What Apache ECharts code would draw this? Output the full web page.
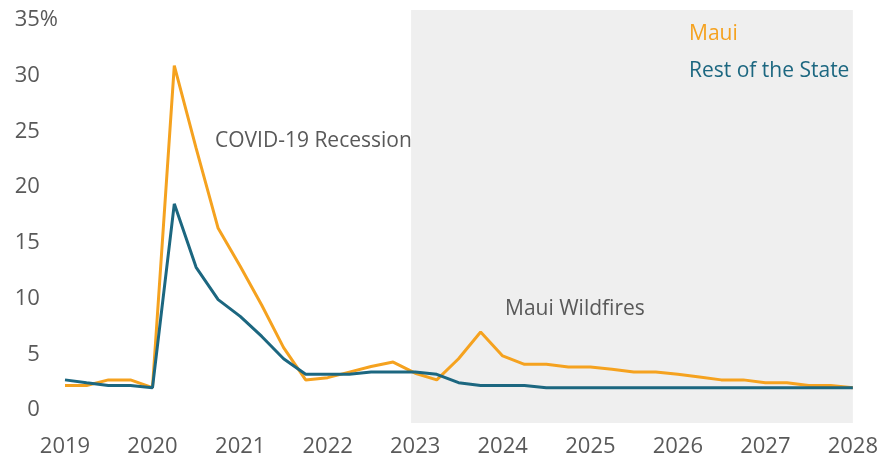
<!DOCTYPE html>
<html>
<head>
<meta charset="utf-8">
<script src="https://cdn.jsdelivr.net/npm/echarts@6/dist/echarts.min.js"></script>
<style>
  html, body { margin: 0; padding: 0; background: #fff; }
  #main { width: 881px; height: 464px; }
</style>
</head>
<body>
<div id="main"></div>
<script>
// quarterly, 2019 Q1 .. 2028 Q1
var quarters = [
  '2019-01-01', '2019-04-01', '2019-07-01', '2019-10-01',
  '2020-01-01', '2020-04-01', '2020-07-01', '2020-10-01',
  '2021-01-01', '2021-04-01', '2021-07-01', '2021-10-01',
  '2022-01-01', '2022-04-01', '2022-07-01', '2022-10-01',
  '2023-01-01', '2023-04-01', '2023-07-01', '2023-10-01',
  '2024-01-01', '2024-04-01', '2024-07-01', '2024-10-01',
  '2025-01-01', '2025-04-01', '2025-07-01', '2025-10-01',
  '2026-01-01', '2026-04-01', '2026-07-01', '2026-10-01',
  '2027-01-01', '2027-04-01', '2027-07-01', '2027-10-01',
  '2028-01-01'
]
var maui = [
  2.2, 2.2, 2.7, 2.7,
  2.0, 30.9, 23.5, 16.3,
  12.9, 9.4, 5.6, 2.7,
  2.9, 3.4, 3.9, 4.3,
  3.3, 2.7, 4.6, 7.0,
  4.85, 4.1, 4.1, 3.85,
  3.85, 3.65, 3.4, 3.4,
  3.2, 2.95, 2.7, 2.7,
  2.45, 2.45, 2.2, 2.2,
  2.0
]
var restOfState = [
  2.7, 2.45, 2.2, 2.2,
  2.0, 18.5, 12.8, 9.9,
  8.4, 6.6, 4.6, 3.2,
  3.2, 3.2, 3.4, 3.4,
  3.4, 3.2, 2.45, 2.2,
  2.2, 2.2, 2.0, 2.0,
  2.0, 2.0, 2.0, 2.0,
  2.0, 2.0, 2.0, 2.0,
  2.0, 2.0, 2.0, 2.0,
  2.0
]
var yTicks = [0, 5, 10, 15, 20, 25, 30, 35]
var forecastStart = '2022-12-15'
var forecastEnd = '2028-01-15'

var ORANGE = '#F5A21F'
var BLUE = '#1C6780'
var GREY = '#595959'
var FONT = '"Open Sans", "Noto Sans", sans-serif'
var YEAR = 365 * 24 * 3600 * 1000

function pairs(vals) {
  return quarters.map(function (q, i) { return [q, vals[i]] })
}

var chart = echarts.init(document.getElementById('main'))
chart.setOption({
  animation: false,
  textStyle: { fontFamily: FONT },
  grid: { left: 65, right: 26, top: 10, bottom: 41 },
  legend: {
    orient: 'vertical',
    left: 679,
    top: 19,
    itemWidth: 0,
    itemHeight: 0,
    itemGap: 16,
    icon: 'none',
    selectedMode: false,
    textStyle: { fontSize: 21, fontFamily: FONT },
    data: [
      { name: 'Maui', textStyle: { color: ORANGE } },
      { name: 'Rest of the State', textStyle: { color: BLUE } }
    ]
  },
  xAxis: {
    type: 'time',
    min: '2019-01-01',
    max: '2028-01-01',
    minInterval: YEAR,
    maxInterval: YEAR,
    axisLine: { show: false },
    axisTick: { show: false },
    splitLine: { show: false },
    axisLabel: {
      formatter: '{yyyy}',
      color: GREY,
      fontSize: 22,
      fontFamily: FONT,
      margin: 13,
      showMinLabel: true,
      showMaxLabel: true
    }
  },
  yAxis: {
    type: 'value',
    min: -1.17,
    max: 35.9,
    axisLine: { show: false },
    axisTick: { show: false },
    splitLine: { show: false },
    axisLabel: {
      customValues: yTicks,
      color: GREY,
      fontSize: 22,
      fontFamily: FONT,
      margin: 7,
      // only the top label shows its percent sign; the rest keep an invisible one so numbers line up
      formatter: function (v) {
        return v === 35 ? v + '{p|%}' : v + '{h|%}'
      },
      rich: {
        p: { fontSize: 22, color: GREY, fontFamily: FONT },
        h: { fontSize: 22, color: 'rgba(0,0,0,0)', fontFamily: FONT }
      }
    }
  },
  graphic: [
    {
      type: 'text', left: 215, top: 131, z: 10,
      style: { text: 'COVID-19 Recession', fill: GREY, fontSize: 21, fontFamily: FONT }
    },
    {
      type: 'text', left: 505, top: 299, z: 10,
      style: { text: 'Maui Wildfires', fill: GREY, fontSize: 21, fontFamily: FONT }
    }
  ],
  series: [
    {
      name: 'Maui',
      type: 'line',
      data: pairs(maui),
      symbol: 'none',
      lineStyle: { color: ORANGE, width: 3 },
      itemStyle: { color: ORANGE },
      z: 3,
      markArea: {
        silent: true,
        itemStyle: { color: '#EFEFEF' },
        data: [[{ xAxis: forecastStart, yAxis: -1.17 }, { xAxis: forecastEnd, yAxis: 35.9 }]]
      }
    },
    {
      name: 'Rest of the State',
      type: 'line',
      data: pairs(restOfState),
      symbol: 'none',
      lineStyle: { color: BLUE, width: 3 },
      itemStyle: { color: BLUE },
      z: 4
    }
  ]
})
</script>
</body>
</html>
